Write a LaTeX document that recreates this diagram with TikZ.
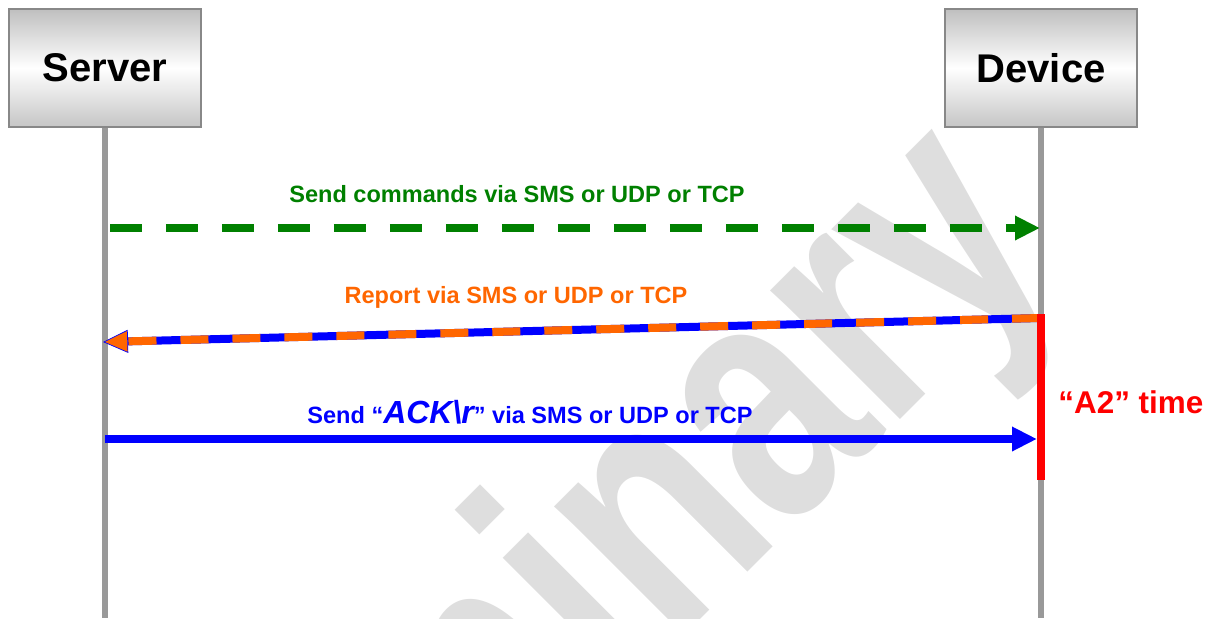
\documentclass[tikz,border=0pt]{standalone}
\usepackage{fontspec}
\setmainfont{Liberation Sans}
\usepackage{tikz}
\usetikzlibrary{arrows.meta}
\definecolor{cmdgreen}{RGB}{0,128,0}
\definecolor{rptorange}{RGB}{255,102,0}
\definecolor{ackblue}{RGB}{0,0,255}
\definecolor{a2red}{RGB}{255,0,0}
\definecolor{lifegray}{RGB}{153,153,153}
\definecolor{boxgray}{RGB}{136,136,136}
\definecolor{markgray}{RGB}{222,222,222}

\begin{document}
\begin{tikzpicture}[x=0.02cm,y=-0.02cm]
	\tikzstyle{entity}=[draw=boxgray, line width=0.04cm, top color=gray!50, bottom color=gray!45, middle color=white, minimum width=3.84cm, minimum height=2.36cm, font=\fontsize{22.8}{24}\selectfont\bfseries]
	\tikzstyle{life}=[draw=lifegray, line width=0.12cm]
	\tikzstyle{lbl}=[anchor=base, inner sep=0pt, font=\fontsize{13.4}{15}\selectfont\bfseries]
	\tikzstyle{tip}=[-{Triangle[length=0.5cm, width=0.46cm]}]
	\tikzstyle{cmdline}=[tip, draw=cmdgreen, line width=0.16cm, dash pattern=on 0.64cm off 0.48cm]
	\tikzstyle{rptline}=[-{Triangle[length=0.5cm, width=0.46cm, fill=rptorange, line width=0.4pt]}, draw=ackblue, line width=0.16cm]
	\tikzstyle{rptdash}=[draw=rptorange, line width=0.16cm, dash pattern=on 0.56cm off 0.48cm, shorten >=0.5cm]
	\tikzstyle{ackline}=[tip, draw=ackblue, line width=0.16cm]
	\useasboundingbox (0,0) rectangle (1222,618);
	\begin{scope}
		\clip (0,0) rectangle (1222,618);
		\node[rotate=45, xscale=0.757, anchor=base west, inner sep=0pt, text=markgray, font=\fontsize{197}{198}\selectfont\bfseries] (mark) at (53,1267) {Preliminary};
	\end{scope}
	\node[entity] (server) at (105,68) {Server};
	\node[entity] (device) at (1041,68) {Device};
	\coordinate (sbot) at (105,618);
	\coordinate (dbot) at (1041,618);
	\draw[life] (server) -- (sbot);
	\draw[life] (device) -- (dbot);
	\coordinate (c1) at (110,228);
	\coordinate (c2) at (1040,228);
	\coordinate (r1) at (1040,318);
	\coordinate (r2) at (103,342);
	\coordinate (k1) at (105,439);
	\coordinate (k2) at (1037,439);
	\coordinate (t1) at (1041,314);
	\coordinate (t2) at (1041,480);
	\draw[cmdline] (c1) -- (c2);
	\draw[rptline] (r1) -- (r2);
	\draw[rptdash] (r1) -- (r2);
	\draw[ackline] (k1) -- (k2);
	\draw[draw=a2red, line width=0.16cm] (t1) -- (t2);
	\node[lbl, text=cmdgreen] (cmdtxt) at (517,202) {Send commands via SMS or UDP or TCP};
	\node[lbl, text=rptorange] (rpttxt) at (516,303) {Report via SMS or UDP or TCP};
	\node[lbl, text=ackblue] (acktxt) at (530,423) {Send “{\fontsize{18.2}{19}\selectfont\itshape ACK\textbackslash r}” via SMS or UDP or TCP};
	\node[lbl, anchor=base west, text=a2red, font=\fontsize{17.9}{19}\selectfont\bfseries] (a2txt) at (1058,413) {“A2” time};
\end{tikzpicture}
\end{document}
